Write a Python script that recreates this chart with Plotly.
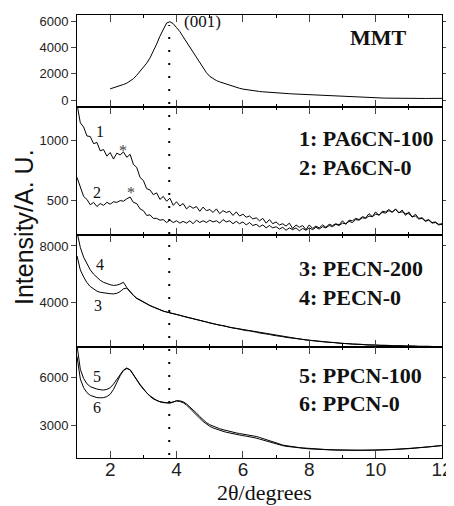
import plotly.graph_objects as go
from plotly.subplots import make_subplots

two_theta = [round(1.0 + 0.1 * i, 1) for i in range(111)]   # grade de varredura 1-12°
mmt_two_theta = two_theta[10:]                               # MMT medido a partir de 2°

mmt = [850, 920, 1000, 1090, 1180, 1280, 1420, 1620, 1880, 2170,
       2480, 2800, 3200, 3680, 4250, 4850, 5400, 5850, 5950, 5800,
       5500, 5200, 4800, 4420, 4020, 3620, 3200, 2800, 2420, 2080,
       1800, 1620, 1480, 1380, 1290, 1200, 1120, 1040, 960, 890,
       830, 785, 745, 710, 680, 650, 625, 600, 580, 560,
       540, 525, 510, 495, 480, 465, 452, 440, 428, 416,
       405, 392, 380, 368, 356, 344, 332, 320, 308, 296,
       284, 272, 260, 248, 236, 224, 212, 200, 190, 180,
       170, 160, 152, 145, 138, 132, 127, 123, 120, 117,
       115, 114, 114, 115, 116, 118, 120, 122, 124, 126, 128]

pa6cn_100 = [1310, 1150, 1115, 1040, 1035, 975, 985, 915, 925, 870,
             900, 845, 895, 880, 905, 860, 885, 800, 775, 690,
             665, 595, 585, 545, 560, 505, 530, 490, 515, 455,
             485, 450, 470, 425, 450, 430, 445, 405, 440, 410,
             420, 395, 425, 385, 410, 395, 405, 370, 400, 365,
             380, 355, 365, 340, 350, 325, 345, 305, 335, 300,
             315, 290, 300, 280, 305, 260, 290, 270, 285, 250,
             290, 260, 280, 265, 290, 270, 295, 285, 300, 290,
             325, 295, 330, 325, 345, 335, 360, 350, 385, 360,
             400, 370, 405, 400, 420, 395, 425, 390, 415, 370,
             400, 355, 380, 345, 350, 325, 335, 310, 315, 295, 300]

pa6cn_0 = [690, 600, 530, 505, 460, 480, 445, 470, 455, 480,
           465, 485, 480, 495, 490, 510, 525, 480, 470, 425,
           410, 370, 375, 345, 345, 330, 335, 310, 330, 310,
           325, 305, 320, 305, 325, 300, 330, 310, 325, 310,
           330, 315, 325, 305, 335, 315, 325, 300, 320, 300,
           315, 290, 310, 285, 295, 275, 290, 265, 285, 265,
           275, 255, 270, 245, 265, 250, 265, 240, 260, 245,
           265, 250, 270, 255, 275, 265, 285, 275, 295, 285,
           305, 300, 320, 310, 335, 330, 350, 345, 365, 360,
           380, 375, 395, 390, 410, 400, 420, 395, 400, 385,
           385, 360, 365, 340, 345, 320, 330, 305, 310, 290, 295]

pecn_200 = [7300, 6300, 5800, 5400, 5120, 4930, 4790, 4710, 4660, 4630,
            4610, 4600, 4640, 4760, 4960, 5010, 4720, 4480, 4270, 4130,
            4000, 3880, 3760, 3660, 3540, 3470, 3370, 3310, 3270, 3190,
            3150, 3060, 3010, 2930, 2890, 2820, 2780, 2700, 2660, 2580,
            2540, 2470, 2440, 2370, 2340, 2270, 2240, 2170, 2140, 2080,
            2060, 1990, 1970, 1900, 1880, 1820, 1800, 1740, 1720, 1660,
            1640, 1580, 1560, 1510, 1490, 1440, 1430, 1380, 1370, 1320,
            1310, 1270, 1260, 1220, 1210, 1170, 1170, 1130, 1130, 1090,
            1090, 1055, 1060, 1025, 1030, 995, 1005, 975, 985, 955,
            965, 938, 950, 923, 936, 910, 924, 898, 912, 886,
            900, 875, 890, 865, 880, 856, 872, 848, 864, 840, 856]

pecn_0 = [9000, 7900, 7200, 6700, 6300, 6000, 5750, 5560, 5420, 5320,
          5250, 5200, 5220, 5300, 5420, 5050, 4750, 4500, 4300, 4150,
          4020, 3910, 3770, 3660, 3550, 3450, 3380, 3310, 3260, 3210,
          3140, 3080, 3000, 2950, 2880, 2840, 2770, 2720, 2650, 2600,
          2530, 2490, 2430, 2390, 2330, 2290, 2230, 2190, 2130, 2100,
          2050, 2010, 1960, 1920, 1870, 1840, 1790, 1760, 1710, 1680,
          1630, 1600, 1550, 1530, 1480, 1460, 1420, 1400, 1360, 1340,
          1300, 1290, 1250, 1240, 1200, 1190, 1160, 1150, 1120, 1110,
          1080, 1075, 1050, 1045, 1020, 1015, 995, 995, 975, 975,
          955, 958, 940, 943, 926, 930, 914, 918, 902, 906,
          890, 895, 880, 885, 870, 876, 862, 868, 854, 860, 846]

ppcn_100 = [8000, 6500, 5920, 5600, 5420, 5320, 5270, 5230, 5210, 5250,
            5350, 5580, 5850, 6150, 6450, 6580, 6450, 6150, 5820, 5520,
            5260, 5020, 4820, 4660, 4550, 4480, 4430, 4400, 4400, 4460,
            4550, 4540, 4480, 4350, 4170, 3980, 3780, 3560, 3360, 3190,
            3060, 2960, 2880, 2810, 2750, 2690, 2640, 2590, 2550, 2510,
            2480, 2450, 2420, 2380, 2330, 2270, 2200, 2120, 2040, 1970,
            1900, 1850, 1800, 1760, 1720, 1690, 1660, 1640, 1620, 1600,
            1580, 1565, 1550, 1540, 1530, 1520, 1510, 1500, 1495, 1490,
            1485, 1480, 1478, 1475, 1473, 1472, 1472, 1473, 1475, 1478,
            1482, 1487, 1493, 1500, 1508, 1517, 1527, 1538, 1550, 1563,
            1577, 1592, 1608, 1625, 1643, 1662, 1682, 1703, 1725, 1748, 1770]

ppcn_0 = [7300, 5900, 5350, 5050, 4880, 4790, 4740, 4730, 4740, 4800,
          4950, 5250, 5700, 6100, 6420, 6540, 6480, 6200, 5860, 5560,
          5290, 5040, 4850, 4680, 4570, 4490, 4440, 4420, 4420, 4470,
          4530, 4500, 4420, 4280, 4090, 3890, 3680, 3460, 3260, 3090,
          2960, 2860, 2780, 2710, 2650, 2590, 2540, 2490, 2450, 2410,
          2380, 2350, 2320, 2280, 2230, 2170, 2110, 2040, 1970, 1910,
          1850, 1800, 1760, 1720, 1690, 1660, 1640, 1620, 1600, 1580,
          1560, 1545, 1535, 1525, 1515, 1505, 1495, 1490, 1485, 1480,
          1475, 1470, 1468, 1466, 1465, 1465, 1466, 1468, 1470, 1474,
          1478, 1483, 1490, 1497, 1505, 1514, 1524, 1535, 1547, 1560,
          1574, 1589, 1605, 1622, 1640, 1660, 1680, 1700, 1722, 1745, 1768]

D001 = 3.78   # posição do pico (001) da MMT

y_ranges = [[-530, 6460], [205, 1284], [826, 8780], [994, 7880]]
y_ticks = [[0, 2000, 4000, 6000], [500, 1000], [4000, 8000], [3000, 6000]]

# --- geometria em pixels da área de plotagem (coords da imagem de referência) ---
L, R, T, B = 77, 442, 15, 458
W, H = 454, 506
OFF = 8   # margem padrão do <body> na página


def px(x, y):
    """converte pixel da imagem em coordenadas 'paper'"""
    return (x - L) / (R - L), (B - y) / (B - T)


fig = make_subplots(rows=4, cols=1, shared_xaxes=True, vertical_spacing=0,
                    row_heights=[92, 128, 112, 111])

linha = dict(color="black", width=1)
fig.add_trace(go.Scatter(x=mmt_two_theta, y=mmt, mode="lines", line=linha), row=1, col=1)
fig.add_trace(go.Scatter(x=two_theta, y=pa6cn_100, mode="lines", line=linha), row=2, col=1)
fig.add_trace(go.Scatter(x=two_theta, y=pa6cn_0, mode="lines", line=linha), row=2, col=1)
fig.add_trace(go.Scatter(x=two_theta, y=pecn_200, mode="lines", line=linha), row=3, col=1)
fig.add_trace(go.Scatter(x=two_theta, y=pecn_0, mode="lines", line=linha), row=3, col=1)
fig.add_trace(go.Scatter(x=two_theta, y=ppcn_100, mode="lines", line=linha), row=4, col=1)
fig.add_trace(go.Scatter(x=two_theta, y=ppcn_0, mode="lines", line=linha), row=4, col=1)

for i in range(4):
    r = i + 1
    fig.update_yaxes(range=y_ranges[i], tickvals=y_ticks[i], ticks="outside", ticklen=5,
                     showline=True, linecolor="black", linewidth=1, mirror="ticks",
                     zeroline=False, showgrid=False,
                     tickfont=dict(family="Liberation Sans", size=13, color="#222"),
                     row=r, col=1)
    fig.update_xaxes(range=[1, 12], dtick=2, tick0=0, ticks="inside", ticklen=7,
                     showline=True, linecolor="black", linewidth=1, mirror="ticks",
                     zeroline=False, showgrid=False, showticklabels=(r == 4),
                     ticklabelstandoff=-6,
                     minor=dict(dtick=1, tick0=1, ticks="inside", ticklen=3, tickcolor="black"),
                     tickfont=dict(family="Liberation Sans", size=19, color="#222"),
                     row=r, col=1)

# linha pontilhada no (001)
y0 = px(0, 455)[1]
y1 = px(0, 25)[1]
fig.add_shape(type="line", xref="x", yref="paper", x0=D001, x1=D001, y0=y0, y1=y1,
              line=dict(color="black", width=2, dash="2px,11px"))

serif = "Liberation Serif"
anots = [
    ("<b>MMT</b>", 348, 37, 22, "left", "#111"),
    ("<b>1: PA6CN-100</b>", 297, 138, 22, "left", "#111"),
    ("<b>2: PA6CN-0</b>", 297, 167, 22, "left", "#111"),
    ("<b>3: PECN-200</b>", 297, 268, 22, "left", "#111"),
    ("<b>4: PECN-0</b>", 297, 297, 22, "left", "#111"),
    ("<b>5: PPCN-100</b>", 297, 375, 22, "left", "#111"),
    ("<b>6: PPCN-0</b>", 297, 403, 22, "left", "#111"),
    ("(001)", 202, 21, 17, "center", "#111"),
    ("1", 100, 131, 16, "center", "#111"),
    ("2", 97, 192, 16, "center", "#111"),
    ("*", 123, 150, 16, "center", "#444"),
    ("*", 131, 192, 16, "center", "#444"),
    ("4", 100, 264, 16, "center", "#111"),
    ("3", 98, 305, 16, "center", "#111"),
    ("5", 97, 376, 16, "center", "#111"),
    ("6", 97, 407, 16, "center", "#111"),
]
for texto, x, y, tam, anc, cor in anots:
    xp, yp = px(x, y)
    fig.add_annotation(text=texto, x=xp, y=yp, xref="paper", yref="paper",
                       xanchor=anc, yanchor="middle", showarrow=False,
                       font=dict(family=serif, size=tam, color=cor))

xp, yp = px(24, 227)
fig.add_annotation(text="Intensity/A. U.", x=xp, y=yp, xref="paper", yref="paper",
                   xanchor="center", yanchor="middle", textangle=-90, showarrow=False,
                   font=dict(family="Liberation Sans", size=25, color="#111"))
xp, yp = px(264, 493)
fig.add_annotation(text="2θ/degrees", x=xp, y=yp, xref="paper", yref="paper",
                   xanchor="center", yanchor="middle", showarrow=False,
                   font=dict(family=serif, size=22, color="#111"))

fig.update_layout(width=W, height=H, showlegend=False,
                  margin=dict(l=L - OFF, r=W - R + OFF, t=T - OFF, b=H - B + OFF),
                  paper_bgcolor="white", plot_bgcolor="white")

fig.write_html("out.html")
